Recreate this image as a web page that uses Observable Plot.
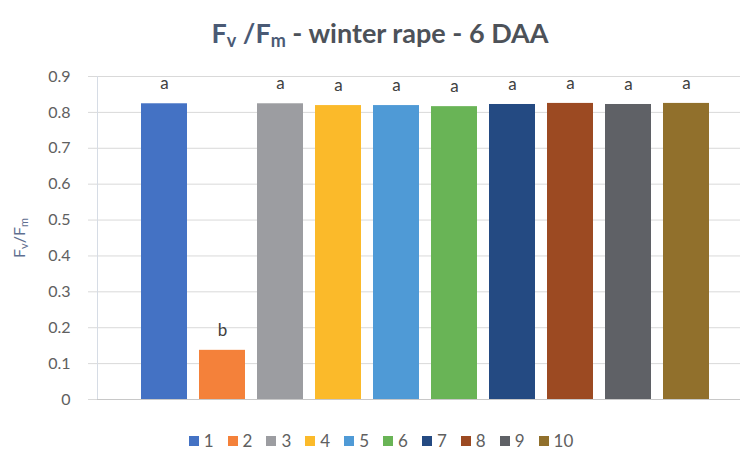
<!DOCTYPE html>
<html>
<head>
<meta charset="utf-8">
<script src="https://cdn.jsdelivr.net/npm/d3@7"></script>
<script src="https://cdn.jsdelivr.net/npm/@observablehq/plot@0.6"></script>
<style>
  body { margin: 0; background: #fff; font-family: Lato, "Open Sans", sans-serif; overflow: hidden; }
  #wrap { width: 750px; height: 450px; position: relative; overflow: hidden; }
  #title { height: 58px; text-align: center; font-weight: bold; font-size: 27px; line-height: 66px; color: #4d5259; padding-left: 10px; }
  #title .f { color: #4a5a75; }
  #title sub { font-size: 18px; vertical-align: -4px; }
  #legend { display: flex; justify-content: center; align-items: center; font-size: 17px; line-height: 18px; color: #606060; height: 18px; margin-top: 4px; padding-left: 26px; }
  #legend .it { display: flex; align-items: center; margin-right: 14px; }
  #legend .sw { width: 10px; height: 10px; margin-right: 5px; }
</style>
</head>
<body>
<div id="wrap">
  <div id="title"><span class="f">F<sub>v</sub> /F<sub>m</sub></span> - winter rape - 6 DAA</div>
  <div id="chart"></div>
  <div id="legend"></div>
</div>
<script>
const treatments = ["1","2","3","4","5","6","7","8","9","10"];
const values = [0.824, 0.137, 0.824, 0.819, 0.819, 0.816, 0.822, 0.825, 0.822, 0.825];
const letters = ["a","b","a","a","a","a","a","a","a","a"];
const colors = ["#4472C4","#F4813A","#9C9DA1","#FBBA2A","#4F9AD6","#69B456","#244A82","#9C4A22","#5F6166","#91702C"];
const yTicks = [0,0.1,0.2,0.3,0.4,0.5,0.6,0.7,0.8,0.9];

const data = treatments.map((t, i) => ({t, v: values[i], l: letters[i]}));

const chart = Plot.plot({
  width: 750,
  height: 370,
  marginLeft: 97,
  marginRight: 10,
  marginTop: 18,
  marginBottom: 29,
  style: {fontFamily: "Lato, 'Open Sans', sans-serif", fontSize: "16px", color: "#606060", background: "#fff"},
  x: {domain: treatments, paddingInner: 0.21, paddingOuter: 0.105, insetLeft: 36, insetRight: 23, axis: null},
  y: {domain: [0, 0.9], axis: null},
  color: {domain: treatments, range: colors},
  marks: [
    Plot.gridY(yTicks, {stroke: "#d9d9d9", strokeOpacity: 1}),
    Plot.axisY(yTicks, {tickSize: 9, tickPadding: 18, stroke: "#d9d9d9", fill: "#606060", fontSize: 16, tickFormat: d => d === 0 ? "0" : d3.format(".1f")(d), label: null}),
    Plot.frame({anchor: "left", stroke: "#d6dce5"}),
    Plot.barY(data, {x: "t", y: "v", fill: "t"}),
    Plot.ruleY([0], {stroke: "#c8c8c8"}),
    Plot.text(data, {x: "t", y: "v", text: "l", dy: -20, fill: "#404040", fontSize: 17})
  ]
});

const svg = chart;
const ns = "http://www.w3.org/2000/svg";
const g = document.createElementNS(ns, "text");
g.setAttribute("transform", "translate(25,180) rotate(-90)");
g.setAttribute("text-anchor", "middle");
g.setAttribute("fill", "#5f6f90");
g.setAttribute("font-size", "16");
g.innerHTML = 'F<tspan font-size="11" dy="3">v</tspan><tspan dy="-3">/F</tspan><tspan font-size="11" dy="3">m</tspan>';
svg.appendChild(g);
document.getElementById("chart").appendChild(chart);

const lg = document.getElementById("legend");
treatments.forEach((t, i) => {
  const it = document.createElement("div");
  it.className = "it";
  it.innerHTML = `<span class="sw" style="background:${colors[i]}"></span><span>${t}</span>`;
  lg.appendChild(it);
});
</script>
</body>
</html>
